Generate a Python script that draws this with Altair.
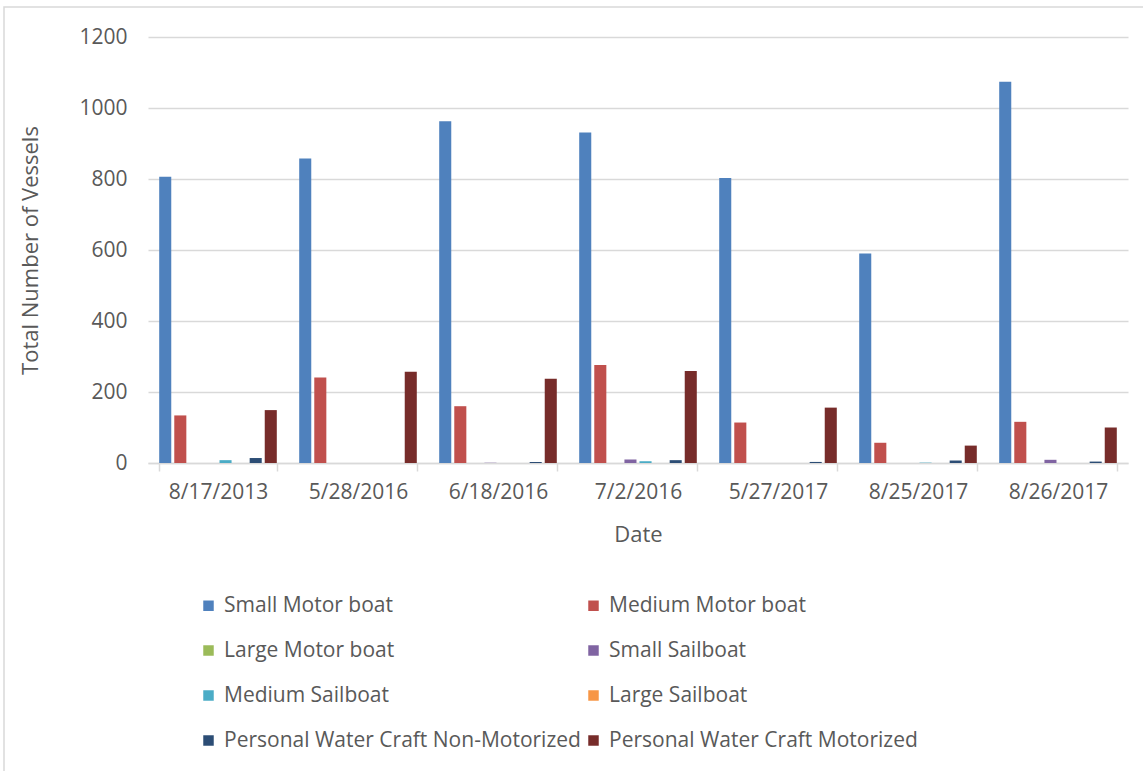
import altair as alt
import pandas as pd

dates = ["8/17/2013", "5/28/2016", "6/18/2016", "7/2/2016", "5/27/2017", "8/25/2017", "8/26/2017"]
types = ["Small Motor boat", "Medium Motor boat", "Large Motor boat", "Small Sailboat",
         "Medium Sailboat", "Large Sailboat", "Personal Water Craft Non-Motorized",
         "Personal Water Craft Motorized"]
colors = ["#4F81BD", "#C0504D", "#9BBB59", "#8064A2", "#4BACC6", "#F79646", "#2C4D75", "#772C2A"]

small_motor = [806, 858, 963, 931, 803, 590, 1074]
medium_motor = [134, 241, 160, 276, 114, 57, 116]
large_motor = [0, 0, 0, 0, 0, 0, 0]
small_sail = [0, 0, 1, 10, 0, 0, 9]
medium_sail = [8, 0, 0, 5, 0, 1, 0]
large_sail = [0, 0, 0, 0, 0, 0, 0]
pwc_nonmotor = [14, 0, 3, 8, 3, 7, 4]
pwc_motor = [149, 257, 237, 259, 156, 49, 100]

series = [small_motor, medium_motor, large_motor, small_sail,
          medium_sail, large_sail, pwc_nonmotor, pwc_motor]

rows = []
for t, vals in zip(types, series):
    for d, v in zip(dates, vals):
        rows.append({"Date": d, "Type": t, "Value": v})
df = pd.DataFrame(rows)

# legend fills column by column: reorder so it reads row by row like the reference
legend_order = types[0::2] + types[1::2]
legend_colors = colors[0::2] + colors[1::2]

FONT = "Open Sans"
TXT = "#595959"
GRID = "#d9d9d9"

bars = alt.Chart(df).mark_bar().encode(
    x=alt.X("Date:N", sort=dates,
            scale=alt.Scale(paddingInner=0.16, paddingOuter=0.08),
            axis=alt.Axis(title="Date", labelAngle=0, labelFontSize=21, labelColor=TXT,
                          labelPadding=10, tickBand="extent", tickSize=8, tickColor=GRID,
                          tickWidth=1.5, domainColor=GRID, domainWidth=1.5,
                          titleFontSize=22, titleColor=TXT, titleFontWeight="normal",
                          titleX=490, titleY=71, titleBaseline="middle", titleAlign="center")),
    xOffset=alt.XOffset("Type:N", sort=types, scale=alt.Scale(paddingInner=0.2)),
    y=alt.Y("Value:Q",
            scale=alt.Scale(domain=[0, 1200]),
            axis=alt.Axis(title="Total Number of Vessels", values=[0, 200, 400, 600, 800, 1000, 1200],
                          format="d",
                          labelFontSize=21, labelColor=TXT, labelPadding=21, ticks=False,
                          domain=False, gridColor=GRID, gridWidth=1.5,
                          titleFontSize=22, titleColor=TXT, titleFontWeight="normal",
                          titleX=-118, titleY=213, titleAngle=-90, titleBaseline="middle",
                          titleAlign="center")),
    color=alt.Color("Type:N", sort=legend_order,
                    scale=alt.Scale(domain=legend_order, range=legend_colors),
                    legend=alt.Legend(title=None, orient="none", legendX=50, legendY=558,
                                      columns=2, symbolType="square", symbolSize=110,
                                      symbolStrokeWidth=0, labelFontSize=21, labelColor=TXT,
                                      labelOffset=5, rowPadding=23, columnPadding=2,
                                      labelLimit=500, padding=0)),
)

border = alt.Chart(alt.Data(values=[{}])).mark_rect(
    fill="transparent", stroke=GRID, strokeWidth=1.5
).encode(
    x=alt.value(-144), x2=alt.value(1020), y=alt.value(-30), y2=alt.value(800)
)

chart = alt.layer(border, bars).properties(
    width=980, height=426,
    autosize=alt.AutoSizeParams(type="none"),
    padding={"left": 148, "top": 37, "right": 15, "bottom": 308},
).configure(font=FONT).configure_view(stroke=None)

chart.save("out.html", embed_options={"renderer": "svg", "actions": False})
